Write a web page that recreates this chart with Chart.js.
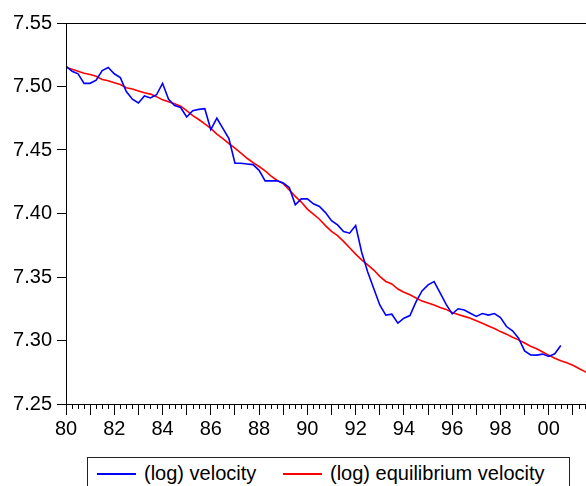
<!DOCTYPE html>
<html>
<head>
<meta charset="utf-8">
<script src="https://cdn.jsdelivr.net/npm/chart.js@4/dist/chart.umd.min.js"></script>
<style>
  html, body { margin: 0; padding: 0; background: #fff; overflow: hidden; width: 586px; height: 486px; }
  #wrap { position: absolute; left: 0; top: 0; width: 599px; height: 486px; }
  #c { display: block; width: 599px; height: 486px; }
  #legend { position: absolute; left: 87px; top: 457px; width: 483px; height: 60px; box-sizing: border-box;
            border: 1px solid #222; background: #fff; font-family: "Liberation Sans", Arial, sans-serif; font-size: 20px; color: #000; }
  .item { position: absolute; top: 5px; height: 22px; white-space: nowrap; }
  .item .ln { position: absolute; left: 0; top: 10px; width: 39px; height: 2px; }
  .item .tx { position: absolute; left: 47px; top: 0; line-height: 20px; }
</style>
</head>
<body>
<div id="wrap"><canvas id="c" width="599" height="486"></canvas></div>
<div id="legend"></div>
<script>
// Quarterly sample starting 1980Q1
const startYear = 1980;
const seriesNames = ["(log) velocity", "(log) equilibrium velocity"];
const seriesColors = ["#0000FF", "#FF0000"];

const velocity = [
  7.516, 7.512, 7.510, 7.5025,
  7.5025, 7.505, 7.5125, 7.515,
  7.510, 7.507, 7.496, 7.490,
  7.487, 7.4925, 7.491, 7.4935,
  7.5025, 7.490, 7.485, 7.4835,
  7.476, 7.481, 7.482, 7.4825,
  7.466, 7.475, 7.467, 7.459,
  7.4396, 7.4396, 7.439, 7.4385,
  7.434, 7.4257, 7.4257, 7.4257,
  7.424, 7.4205, 7.4068, 7.4115,
  7.4115, 7.4076, 7.4055, 7.4007,
  7.3944, 7.391, 7.3858, 7.3845,
  7.3905, 7.3695, 7.354, 7.341,
  7.328, 7.320, 7.3207, 7.3137,
  7.3176, 7.3196, 7.3304, 7.339,
  7.3438, 7.3464, 7.3375, 7.3285,
  7.321, 7.325, 7.324, 7.3215,
  7.319, 7.3212, 7.320, 7.3212,
  7.3181, 7.311, 7.3076, 7.3018,
  7.2918, 7.2887, 7.2885, 7.2893,
  7.2874, 7.2895, 7.296
];

const equilibrium = [
  7.515, 7.5135, 7.512, 7.5105,
  7.5095, 7.508, 7.5055, 7.5045,
  7.503, 7.5015, 7.499, 7.498,
  7.4965, 7.495, 7.494, 7.492,
  7.4895, 7.488, 7.4865, 7.4845,
  7.481, 7.477, 7.474, 7.4705,
  7.467, 7.4625, 7.459, 7.455,
  7.4515, 7.4475, 7.4435, 7.440,
  7.437, 7.4335, 7.4295, 7.426,
  7.4235, 7.4185, 7.4135, 7.409,
  7.4035, 7.3995, 7.3955, 7.3905,
  7.386, 7.3825, 7.378, 7.373,
  7.368, 7.3635, 7.3595, 7.3555,
  7.3505, 7.3465, 7.3445, 7.3405,
  7.338, 7.336, 7.3335, 7.331,
  7.3295, 7.328, 7.326, 7.3245,
  7.322, 7.3205, 7.319, 7.3175,
  7.3155, 7.3135, 7.3115, 7.3095,
  7.307, 7.305, 7.3025, 7.3005,
  7.298, 7.2955, 7.2935, 7.291,
  7.2885, 7.286, 7.284, 7.2825,
  7.2805, 7.278, 7.2755, 7.273
];

const yTicks = [7.25, 7.30, 7.35, 7.40, 7.45, 7.50, 7.55];
const xMin = 1980, xMax = 2002, xLabelEvery = 2, xLastLabel = 2000;
const minorPerYear = 4;

function toXY(arr) {
  return arr.map((v, i) => ({ x: startYear + i / 4, y: v }));
}

const FONT = { family: "'Liberation Sans', Arial, sans-serif", size: 20 };

// frame around the plot area + quarterly minor ticks placed by the x scale
const framePlugin = {
  id: 'frame',
  afterDatasetsDraw(chart) {
    const a = chart.chartArea, ctx = chart.ctx, xs = chart.scales.x;
    ctx.save();
    ctx.strokeStyle = '#000';
    ctx.lineWidth = 1;
    ctx.strokeRect(Math.round(a.left) + 0.5, Math.round(a.top) + 0.5,
                   Math.round(a.right - a.left), Math.round(a.bottom - a.top));
    ctx.beginPath();
    for (let k = xMin * minorPerYear; k <= xMax * minorPerYear; k++) {
      if (k % minorPerYear === 0) continue;
      const px = Math.round(xs.getPixelForValue(k / minorPerYear)) + 0.5;
      ctx.moveTo(px, Math.round(a.bottom));
      ctx.lineTo(px, Math.round(a.bottom) + 5);
    }
    ctx.stroke();
    ctx.restore();
  }
};

const chart = new Chart(document.getElementById('c'), {
  type: 'line',
  data: {
    datasets: [
      { label: seriesNames[0], data: toXY(velocity), borderColor: seriesColors[0], borderWidth: 1.6,
        pointRadius: 0, tension: 0, fill: false },
      { label: seriesNames[1], data: toXY(equilibrium), borderColor: seriesColors[1], borderWidth: 1.6,
        pointRadius: 0, tension: 0, fill: false }
    ]
  },
  options: {
    responsive: false,
    animation: false,
    devicePixelRatio: 1,
    layout: { padding: { top: 23, right: 0, bottom: 0, left: 0 } },
    plugins: { legend: { display: false }, tooltip: { enabled: false } },
    scales: {
      x: {
        type: 'linear', position: 'bottom', min: xMin, max: xMax,
        afterBuildTicks(s) {
          const t = [];
          for (let v = xMin; v <= xMax; v++) t.push({ value: v });
          s.ticks = t;
        },
        afterFit(s) { s.height = 82; },
        ticks: {
          autoSkip: false, maxRotation: 0, color: '#000', font: FONT, padding: 2,
          callback(v) {
            if (v % xLabelEvery !== 0 || v > xLastLabel) return '';
            return String(v % 100).padStart(2, '0');
          }
        },
        grid: { drawOnChartArea: false, drawTicks: true, tickLength: 11, color: '#000', tickColor: '#000', lineWidth: 1 },
        border: { display: true, color: '#000', width: 1 }
      },
      y: {
        type: 'linear', position: 'left', min: yTicks[0], max: yTicks[yTicks.length - 1],
        afterBuildTicks(s) { s.ticks = yTicks.map(v => ({ value: v })); },
        afterFit(s) { s.width = 66; },
        ticks: { color: '#000', font: FONT, padding: 5, callback: v => v.toFixed(2) },
        grid: { drawOnChartArea: false, drawTicks: true, tickLength: 9, color: '#000', tickColor: '#000', lineWidth: 1 },
        border: { display: true, color: '#000', width: 1 }
      }
    }
  },
  plugins: [framePlugin]
});

// HTML legend built from the chart's datasets
const legend = document.getElementById('legend');
const itemLefts = [9, 195];
chart.data.datasets.forEach((ds, i) => {
  const it = document.createElement('div');
  it.className = 'item';
  it.style.left = itemLefts[i] + 'px';
  const ln = document.createElement('span'); ln.className = 'ln'; ln.style.background = ds.borderColor;
  const tx = document.createElement('span'); tx.className = 'tx'; tx.textContent = ds.label;
  it.appendChild(ln); it.appendChild(tx);
  legend.appendChild(it);
});
</script>
</body>
</html>
